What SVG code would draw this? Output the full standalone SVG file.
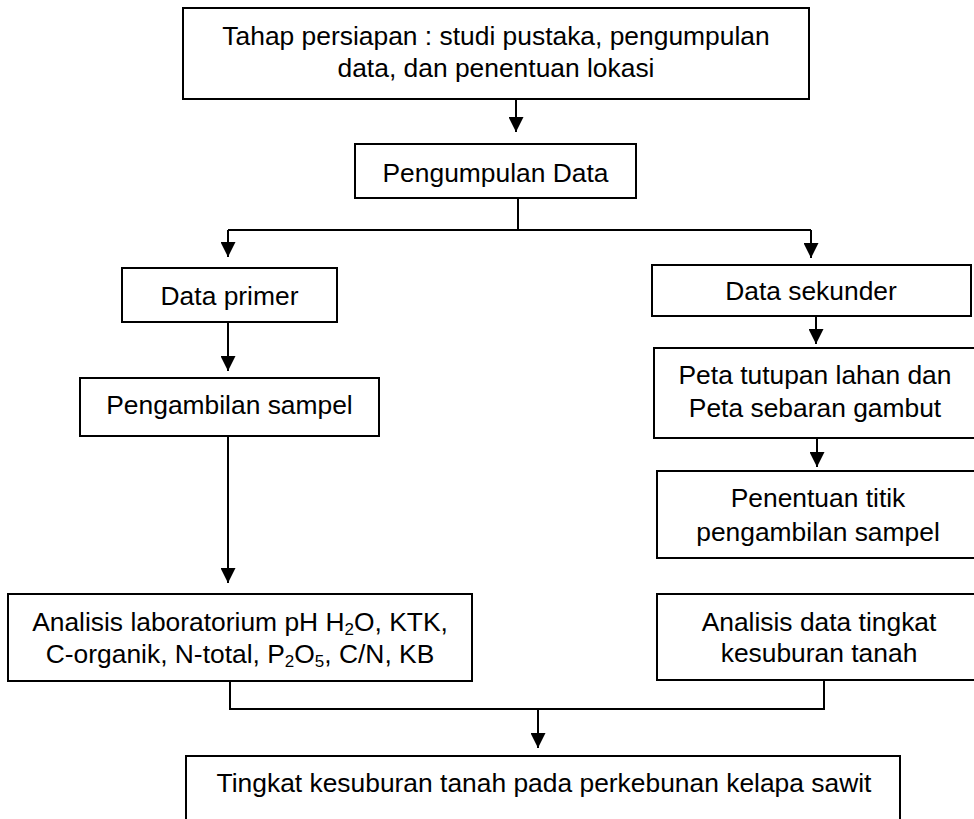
<svg xmlns="http://www.w3.org/2000/svg" width="974" height="819" viewBox="0 0 974 819">
<defs>
<style>
.box{fill:#fff;stroke:#000;stroke-width:2}
.t{font-family:"Liberation Sans",Arial,sans-serif;font-size:26.4px;fill:#000;text-anchor:middle}
.c{fill:none;stroke:#000;stroke-width:2}
.sub{font-size:17px}
</style>
<marker id="ah" markerUnits="userSpaceOnUse" markerWidth="15" markerHeight="15" refX="15" refY="7.5" orient="auto" viewBox="0 0 15 15">
<path d="M0,0 L15,7.5 L0,15 z" fill="#000"/>
</marker>
</defs>
<rect width="974" height="819" fill="#fff"/>
<g id="connectors">
<path class="c" d="M516,99 V132" marker-end="url(#ah)"/>
<path class="c" d="M518,198 V230"/>
<path class="c" d="M228,230 H811"/>
<path class="c" d="M228,230 V257" marker-end="url(#ah)"/>
<path class="c" d="M811,230 V258" marker-end="url(#ah)"/>
<path class="c" d="M228,322 V371" marker-end="url(#ah)"/>
<path class="c" d="M228,436 V583" marker-end="url(#ah)"/>
<path class="c" d="M816,316 V344" marker-end="url(#ah)"/>
<path class="c" d="M817,438 V467" marker-end="url(#ah)"/>
<path class="c" d="M230,681 V709 H824 V680"/>
<path class="c" d="M538,709 V748" marker-end="url(#ah)"/>
</g>
<g id="tahap">
<rect class="box" x="183" y="8" width="626" height="91"/>
<text class="t" x="496" y="45">Tahap persiapan : studi pustaka, pengumpulan</text>
<text class="t" x="496" y="77">data, dan penentuan lokasi</text>
</g>
<g id="pengumpulan">
<rect class="box" x="355" y="144" width="281" height="54"/>
<text class="t" x="495.5" y="182">Pengumpulan Data</text>
</g>
<g id="primer">
<rect class="box" x="122" y="268" width="215" height="54"/>
<text class="t" x="229.5" y="305">Data primer</text>
</g>
<g id="pengambilan">
<rect class="box" x="80" y="378" width="299" height="58"/>
<text class="t" x="229.5" y="414">Pengambilan sampel</text>
</g>
<g id="lab">
<rect class="box" x="8" y="594" width="464" height="87"/>
<text class="t" x="240" y="631">Analisis laboratorium pH H<tspan class="sub" dy="4">2</tspan><tspan dy="-4">O, KTK,</tspan></text>
<text class="t" x="240" y="663">C-organik, N-total, P<tspan class="sub" dy="4">2</tspan><tspan dy="-4">O</tspan><tspan class="sub" dy="4">5</tspan><tspan dy="-4">, C/N, KB</tspan></text>
</g>
<g id="sekunder">
<rect class="box" x="652" y="265" width="319" height="51"/>
<text class="t" x="811" y="300">Data sekunder</text>
</g>
<g id="peta">
<rect class="box" x="654" y="348" width="330" height="90"/>
<text class="t" x="815" y="384">Peta tutupan lahan dan</text>
<text class="t" x="815" y="417">Peta sebaran gambut</text>
</g>
<g id="penentuan">
<rect class="box" x="657" y="471" width="330" height="87"/>
<text class="t" x="818" y="507">Penentuan titik</text>
<text class="t" x="818" y="541">pengambilan sampel</text>
</g>
<g id="analisis-data">
<rect class="box" x="657" y="594" width="330" height="86"/>
<text class="t" x="819" y="631">Analisis data tingkat</text>
<text class="t" x="819" y="662">kesuburan tanah</text>
</g>
<g id="tingkat">
<rect class="box" x="186" y="756" width="714" height="100"/>
<text class="t" x="544" y="792">Tingkat kesuburan tanah pada perkebunan kelapa sawit</text>
</g>
</svg>
